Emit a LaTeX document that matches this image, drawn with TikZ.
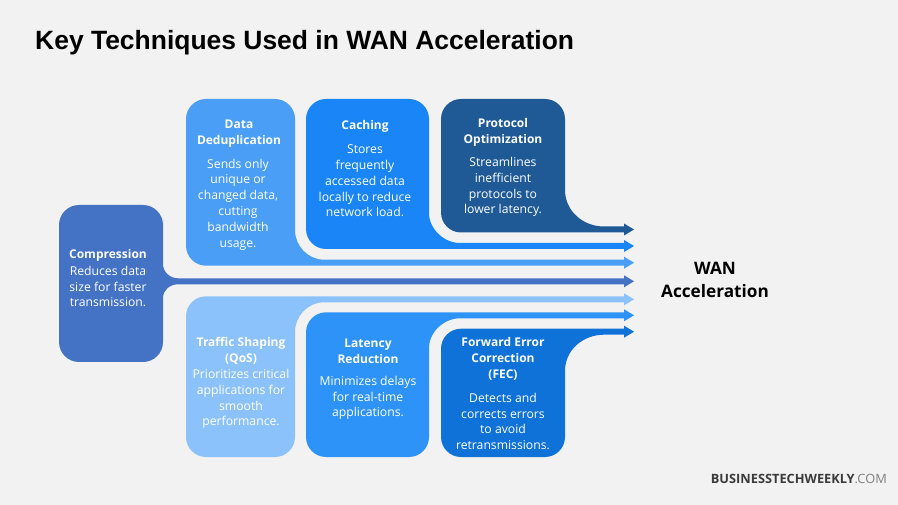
\documentclass[tikz,border=0pt]{standalone}
\usepackage{fontspec}
\setmainfont{Open Sans}
\newfontfamily\titlefont{Liberation Sans}
\definecolor{bgc}{HTML}{F2F2F2}
\definecolor{cComp}{HTML}{4472C4}
\definecolor{cData}{HTML}{4A9EF5}
\definecolor{cCach}{HTML}{1A85F7}
\definecolor{cProt}{HTML}{1F5A96}
\definecolor{cTraf}{HTML}{8CC2FB}
\definecolor{cLate}{HTML}{2E93F8}
\definecolor{cFec}{HTML}{0F72D8}
\tikzset{
  headtxt/.style={text=white,font=\fontsize{12.0}{15.8}\selectfont\bfseries,align=center,inner sep=0pt},
  bodytxt/.style={text=white,font=\fontsize{12.2}{15.8}\selectfont,align=center,inner sep=0pt},
  sidetxt/.style={text=black,font=\fontsize{17.2}{23}\selectfont\bfseries,align=center,inner sep=0pt},
}
\begin{document}
\begin{tikzpicture}[x=1pt,y=-1pt]
\fill[bgc] (0,0) rectangle (898,505);
\useasboundingbox (0,0) rectangle (898,505);
\node[anchor=west,inner sep=0pt,font=\fontsize{26.45}{30}\titlefont\bfseries,text=black] (title) at (35,43) {Key Techniques Used in WAN Acceleration};
% Data deduplication
\fill[cData] (186,180) [rounded corners=20] -- (186,99) -- (295,99) -- (295,180) [sharp corners] -- (295,230) .. controls (295,246) and (308,259.7) .. (324,259.7) -- (624,259.7) -- (624,256.7) -- (634,262.7) -- (624,268.7) -- (624,265.7) -- (300,265.7) [rounded corners=20] -- (186,265.7) -- (186,180) -- cycle;
% Caching
\fill[cCach] (306,180) [rounded corners=20] -- (306,99) -- (429,99) -- (429,180) [sharp corners] -- (429,213) .. controls (429,229) and (444,243) .. (460,243) -- (624,243) -- (624,240) -- (634,246) -- (624,252) -- (624,249) -- (400,249) [rounded corners=20] -- (306,249) -- (306,180) -- cycle;
% Protocol optimization
\fill[cProt] (441,160) [rounded corners=20] -- (441,99) -- (565,99) -- (565,160) [sharp corners] -- (565,190) .. controls (565,211) and (583,226.5) .. (604,226.5) -- (624,226.5) -- (624,223.5) -- (634,229.5) -- (624,235.5) -- (624,232.5) -- (500,232.5) [rounded corners=20] -- (441,232.5) -- (441,160) -- cycle;
% Traffic shaping
\fill[cTraf] (186,380) [rounded corners=20] -- (186,296.3) -- (300,296.3) [sharp corners] -- (624,296.3) -- (624,293.3) -- (634,299.3) -- (624,305.3) -- (624,302.3) -- (324,302.3) .. controls (308,302.3) and (295,316) .. (295,332) [rounded corners=20] -- (295,457) -- (186,457) -- (186,380) -- cycle;
% Latency reduction
\fill[cLate] (306,400) [rounded corners=20] -- (306,312.3) -- (400,312.3) [sharp corners] -- (624,312.3) -- (624,309.3) -- (634,315.3) -- (624,321.3) -- (624,318.3) -- (460,318.3) .. controls (444,318.3) and (429,332) .. (429,348) [rounded corners=20] -- (429,457) -- (306,457) -- (306,400) -- cycle;
% Forward error correction
\fill[cFec] (441,400) [rounded corners=20] -- (441,328.7) -- (500,328.7) [sharp corners] -- (624,328.7) -- (624,325.7) -- (634,331.7) -- (624,337.7) -- (624,334.7) -- (604,334.7) .. controls (583,334.7) and (565,350) .. (565,371) [rounded corners=20] -- (565,457) -- (441,457) -- (441,400) -- cycle;
% Compression
\fill[cComp] (59,280) [rounded corners=20] -- (59,205) -- (163,205) -- (163,240) [sharp corners] -- (163,264) .. controls (163,272) and (170,278.3) .. (178,278.3) -- (624,278.3) -- (624,275.3) -- (634,281.3) -- (624,287.3) -- (624,284.3) -- (178,284.3) .. controls (170,284.3) and (163,290) .. (163,298) [rounded corners=20] -- (163,362) -- (59,362) -- (59,280) -- cycle;
% Texts
\node[headtxt] (h1) at (108,255) {Compression};
\node[bodytxt] (b1) at (108,286.5) {Reduces data\\size for faster\\transmission.};
\node[headtxt] (h2) at (239,134) {Data\\Deduplication};
\node[bodytxt] (b2) at (238,204.5) {Sends only\\unique or\\changed data,\\cutting\\bandwidth\\usage.};
\node[headtxt] (h3) at (365,126.5) {Caching};
\node[bodytxt] (b3) at (365,181) {Stores\\frequently\\accessed data\\locally to reduce\\network load.};
\node[headtxt] (h4) at (503,132.5) {Protocol\\Optimization};
\node[bodytxt] (b4) at (503,187) {Streamlines\\inefficient\\protocols to\\lower latency.};
\node[headtxt] (h5) at (241,351) {Traffic Shaping\\(QoS)};
\node[bodytxt] (b5) at (241,399) {Prioritizes critical\\applications for\\smooth\\performance.};
\node[headtxt] (h6) at (368,351) {Latency\\Reduction};
\node[bodytxt] (b6) at (368,398) {Minimizes delays\\for real-time\\applications.};
\node[headtxt] (h7) at (503,359) {Forward Error\\Correction\\(FEC)};
\node[bodytxt] (b7) at (503,421.5) {Detects and\\corrects errors\\to avoid\\retransmissions.};
\node[sidetxt] (goal) at (715,279.5) {WAN\\Acceleration};
\node[anchor=east,inner sep=0pt,font=\fontsize{12.8}{14}\selectfont] (brand) at (887,478.5) {\textcolor[HTML]{3A3A3A}{\bfseries BUSINESSTECHWEEKLY}\textcolor[HTML]{7F7F7F}{.COM}};
\end{tikzpicture}
\end{document}
